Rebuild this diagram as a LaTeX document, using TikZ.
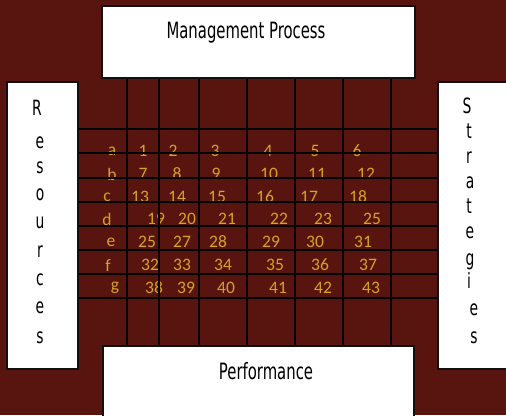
\documentclass[tikz,border=0pt]{standalone}
\usepackage{fontspec}
\usepackage{tikz}
\setmainfont{Carlito}
\newfontfamily\agencyfont[FakeStretch=0.66]{DejaVu Sans}
\definecolor{matrixBg}{HTML}{58150F}
\definecolor{cellGold}{HTML}{D6A224}
\definecolor{boxEdge}{HTML}{101010}

\begin{document}
\begin{tikzpicture}[x=1pt, y=-1pt,
      panel/.style={draw=boxEdge, line width=1.6pt, fill=white, inner sep=0pt},
      paneltext/.style={font=\agencyfont\fontsize{22.5}{24}\selectfont, text=black, inner sep=0pt},
      letter/.style={font=\agencyfont\fontsize{21}{23}\selectfont, text=black, inner sep=0pt, anchor=base},
      cell/.style={font=\fontsize{17.5}{19}\selectfont, text=cellGold, inner sep=0pt},
      gridline/.style={draw=black, line width=1.2pt}]
      \useasboundingbox (0,0) rectangle (506,415);
      \fill[matrixBg] (0,0) rectangle (506,415);

      % Cell entries (drawn first, the grid runs over them)
      \foreach \t/\x/\y [count=\k] in {a/112/151, 1/143/151, 2/173/151, 3/215/151, 4/268/151, 5/315/151, 6/357/151,
            b/112/174, 7/143/174, 8/177/174, 9/216/174, 10/269/174, 11/317/174, 12/366/174,
            c/107/197, 13/140/197, 14/177/197, 15/217/197, 16/265/197, 17/309/197, 18/358/197,
            d/107/219, 19/156/219, 20/187/219, 21/227/219, 22/279/219, 23/323/219, 25/372/219,
            e/111/242, 25/147/242, 27/182/242, 28/218/242, 29/271/242, 30/315/242, 31/363/242,
            f/108/265, 32/150/265, 33/182/265, 34/223/265, 35/275/265, 36/320/265, 37/368/265,
            g/115/288, 38/154/288, 39/186/288, 40/226/288, 41/278/288, 42/323/288, 43/371/288} {
            \node[cell] (entry\k) at (\x,\y) {\t};
      }

      % Grid
      \foreach \x in {127,159,199,247,295,343,391} {
            \draw[gridline] (\x,78) -- (\x,346);
      }
      \foreach \y in {129,153,178,202,226,250,274,298} {
            \draw[gridline] (78,\y) -- (438,\y);
      }

      % Boxes
      \node[panel, minimum width=313pt, minimum height=72pt] (mgmt) at (258.5,42) {};
      \node[paneltext] (mgmtlabel) at (246,33) {Management Process};
      \node[panel, minimum width=311pt, minimum height=76pt] (perf) at (258.5,384) {};
      \node[paneltext] (perflabel) at (266,371) {Performance};
      \node[panel, minimum width=71pt, minimum height=287pt] (res) at (42.5,225.5) {};
      \node[panel, minimum width=76pt, minimum height=287pt] (strat) at (476,225.5) {};

      % Vertical words
      \foreach \t/\x/\y [count=\k] in {R/37/115, e/40/148, s/40/173, o/40/200, u/40/228, r/40/257, c/40/285, e/40/313, s/40/343} {
            \node[letter] (resletter\k) at (\x,\y) {\t};
      }
      \foreach \t/\x/\y [count=\k] in {S/467/113, t/469/138, r/469/163, a/470/188, t/469/213, e/470/238, g/470/265, i/469/288, e/474/315, s/474/343} {
            \node[letter] (stratletter\k) at (\x,\y) {\t};
      }
\end{tikzpicture}
\end{document}
